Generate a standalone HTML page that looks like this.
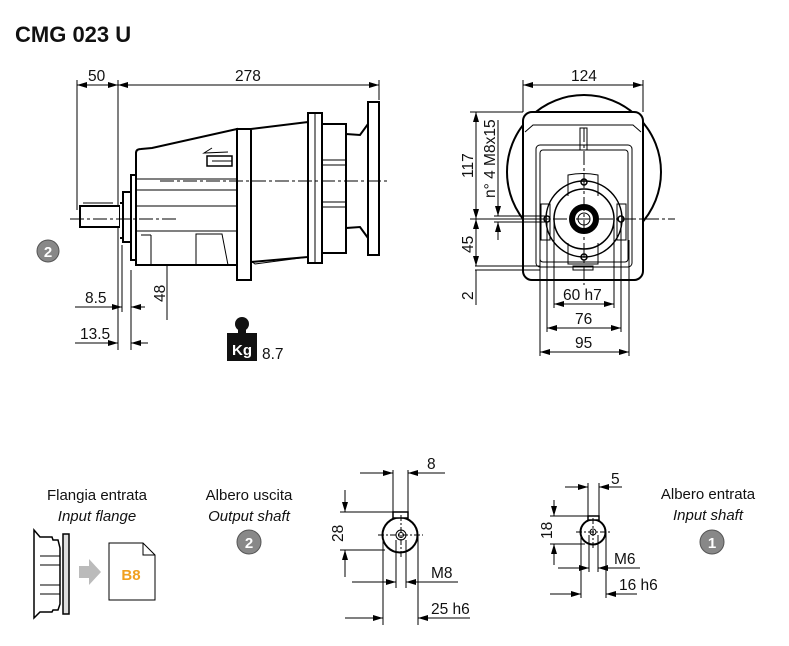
<!DOCTYPE html>
<html><head><meta charset="utf-8"><style>
html,body{margin:0;padding:0;background:#fff}
svg{display:block}
text{font-family:"Liberation Sans",Arial,sans-serif;fill:#111}
</style></head><body>
<svg width="789" height="646" viewBox="0 0 789 646" xmlns="http://www.w3.org/2000/svg">
<defs>
<marker id="a" viewBox="0 0 10 6" refX="10" refY="3" markerWidth="10" markerHeight="6" orient="auto-start-reverse" markerUnits="userSpaceOnUse"><path d="M0,0L10,3L0,6z" fill="#000"/></marker>
</defs>
<text x="15" y="42" font-size="22" font-weight="bold">CMG 023 U</text>

<g stroke="#000" fill="none" stroke-width="1">
<line x1="77" y1="80" x2="77" y2="210"/>
<line x1="118" y1="80" x2="118" y2="350"/>
<line x1="379" y1="80" x2="379" y2="100"/>
<line x1="77" y1="85" x2="118" y2="85" marker-start="url(#a)" marker-end="url(#a)"/>
<line x1="118" y1="85" x2="379" y2="85" marker-start="url(#a)" marker-end="url(#a)"/>
<line x1="122" y1="245" x2="122" y2="312"/>
<line x1="131" y1="270" x2="131" y2="350"/>
<line x1="75" y1="307" x2="122" y2="307" marker-end="url(#a)"/>
<line x1="145" y1="307" x2="131" y2="307" marker-end="url(#a)"/>
<line x1="75" y1="343" x2="118" y2="343" marker-end="url(#a)"/>
<line x1="148" y1="343" x2="131" y2="343" marker-end="url(#a)"/>
<line x1="167" y1="156" x2="167" y2="179" marker-end="url(#a)"/>
<line x1="167" y1="320" x2="167" y2="220" marker-end="url(#a)"/>
</g>
<text x="88" y="81" font-size="15.5">50</text>
<text x="235" y="81" font-size="15.5">278</text>
<text x="85" y="303" font-size="15.5">8.5</text>
<text x="80" y="339" font-size="15.5">13.5</text>
<text transform="translate(165,302) rotate(-90)" font-size="15.5">48</text>

<g stroke="#000" stroke-width="2" fill="#fff">
<rect x="80" y="206" width="40" height="21"/>
<path d="M120,203 L123,203 L123,238 L120,238"/>
<rect x="123" y="192" width="8" height="50"/>
<rect x="131" y="175" width="5" height="85"/>
<path d="M136,265 L136,153 Q136,149 141,149 L152,148 L237,129 L237,265 Z"/>
<rect x="237" y="129" width="14" height="151"/>
<path d="M251,129 L308,122 L308,257 L251,262 Z"/>
<rect x="308" y="113" width="14" height="150"/>
<rect x="322" y="124" width="24" height="129"/>
<path d="M346,134 L360,135 L368,124 L368,238 L360,227 L346,228 Z"/>
<rect x="368" y="102" width="11" height="153"/>
</g>
<g stroke="#000" stroke-width="1" fill="none">
<line x1="83" y1="203" x2="113" y2="203"/>
<line x1="136" y1="179" x2="237" y2="179"/>
<line x1="136" y1="190" x2="237" y2="190"/>
<line x1="136" y1="206" x2="237" y2="206"/>
<line x1="136" y1="231" x2="237" y2="231"/>
<line x1="322" y1="160" x2="346" y2="160"/>
<line x1="322" y1="165" x2="346" y2="165"/>
<line x1="322" y1="202" x2="346" y2="202"/>
<line x1="322" y1="207" x2="346" y2="207"/>
<line x1="141" y1="235" x2="151" y2="235"/><line x1="151" y1="235" x2="151" y2="265"/>
<path d="M196,265 L196,234 L222,234 L228,265"/>
<path d="M212,148 L204,153 L228,152"/>
<rect x="207" y="156" width="25" height="10" stroke-width="1.5"/>
<line x1="212" y1="161" x2="232" y2="161"/>
<path d="M251,261 L255,264 L308,257" />
<line x1="315" y1="113" x2="315" y2="263"/>
</g>
<g stroke="#000" stroke-width="1" stroke-dasharray="14,3,3,3">
<line x1="70" y1="219" x2="178" y2="219"/>
<line x1="160" y1="181" x2="388" y2="181"/>
</g>
<circle cx="48" cy="251" r="11" fill="#888" stroke="#555"/>
<text x="48" y="257" font-size="15" font-weight="bold" text-anchor="middle" style="fill:#fff">2</text>

<circle cx="242" cy="324" r="7" fill="#111"/>
<rect x="238" y="329" width="8" height="6" fill="#111"/>
<rect x="227" y="333" width="30" height="28" fill="#111"/>
<text x="242" y="355" font-size="15" font-weight="bold" text-anchor="middle" style="fill:#fff">Kg</text>
<text x="262" y="359" font-size="15.5">8.7</text>

<circle cx="584" cy="172" r="77" fill="#fff" stroke="#000" stroke-width="2"/>
<rect x="523" y="112" width="120" height="168" rx="9" fill="#fff" stroke="#000" stroke-width="2"/>
<g stroke="#000" fill="none" stroke-width="1">
<path d="M525,132 L533,125 L633,125 L641,132"/>
<rect x="536" y="145" width="96" height="122" rx="4"/>
<rect x="540" y="150" width="88" height="112" rx="3"/>
<rect x="580" y="128" width="7" height="22"/>
<path d="M568,196 L568,175 Q583,172 598,175 L598,196"/>
<path d="M541,204 L550,204 L550,240 L541,240 Z"/>
<path d="M617,204 L626,204 L626,240 L617,240 Z"/>
<path d="M568,243 L568,264 L598,264 L598,243"/>
<circle cx="584" cy="219" r="38" stroke-width="1.5"/>
<circle cx="584" cy="219" r="30" stroke-width="1.5"/>
<circle cx="584" cy="219" r="12" stroke="#000" stroke-width="6"/>
<circle cx="584" cy="219" r="6"/>
<circle cx="584" cy="182" r="3" stroke-width="1.5"/>
<circle cx="584" cy="257" r="3" stroke-width="1.5"/>
<circle cx="547" cy="219" r="3" stroke-width="1.5"/>
<circle cx="621" cy="219" r="3" stroke-width="1.5"/>
<rect x="573" y="266" width="20" height="4"/>
<line x1="523" y1="80" x2="523" y2="112"/>
<line x1="643" y1="80" x2="643" y2="112"/>
<line x1="523" y1="85" x2="643" y2="85" marker-start="url(#a)" marker-end="url(#a)"/>
<line x1="470" y1="112" x2="523" y2="112"/>
<line x1="470" y1="219" x2="548" y2="219"/>
<line x1="475" y1="266" x2="540" y2="266"/>
<line x1="475" y1="270" x2="540" y2="270"/>
<line x1="476" y1="112" x2="476" y2="219" marker-start="url(#a)" marker-end="url(#a)"/>
<line x1="476" y1="219" x2="476" y2="266" marker-start="url(#a)" marker-end="url(#a)"/>
<line x1="476" y1="270" x2="476" y2="305"/>
<line x1="498" y1="120" x2="498" y2="216" marker-end="url(#a)"/>
<line x1="498" y1="240" x2="498" y2="222" marker-end="url(#a)"/>
<line x1="494" y1="216" x2="546" y2="216"/>
<line x1="494" y1="222" x2="546" y2="222"/>
<line x1="554" y1="219" x2="554" y2="308"/>
<line x1="614" y1="219" x2="614" y2="308"/>
<line x1="547" y1="222" x2="547" y2="332"/>
<line x1="621" y1="222" x2="621" y2="332"/>
<line x1="540" y1="240" x2="540" y2="356"/>
<line x1="629" y1="240" x2="629" y2="356"/>
<line x1="554" y1="304" x2="614" y2="304" marker-start="url(#a)" marker-end="url(#a)"/>
<line x1="547" y1="328" x2="621" y2="328" marker-start="url(#a)" marker-end="url(#a)"/>
<line x1="540" y1="352" x2="629" y2="352" marker-start="url(#a)" marker-end="url(#a)"/>
</g>
<g stroke="#000" stroke-width="1" stroke-dasharray="14,3,3,3">
<line x1="584" y1="128" x2="584" y2="285"/>
<line x1="530" y1="219" x2="675" y2="219"/>
</g>
<text x="571" y="81" font-size="15.5">124</text>
<text transform="translate(473,178) rotate(-90)" font-size="15.5">117</text>
<text transform="translate(473,253) rotate(-90)" font-size="15.5">45</text>
<text transform="translate(473,300) rotate(-90)" font-size="15.5">2</text>
<text transform="translate(495,198) rotate(-90)" font-size="15.5">n° 4 M8x15</text>
<text x="563" y="300" font-size="15.5">60 h7</text>
<text x="575" y="324" font-size="15.5">76</text>
<text x="575" y="348" font-size="15.5">95</text>

<text x="97" y="500" font-size="15" text-anchor="middle">Flangia entrata</text>
<text x="97" y="521" font-size="15" font-style="italic" text-anchor="middle">Input flange</text>
<text x="249" y="500" font-size="15" text-anchor="middle">Albero uscita</text>
<text x="249" y="521" font-size="15" font-style="italic" text-anchor="middle">Output shaft</text>
<circle cx="249" cy="542" r="12" fill="#888" stroke="#555"/>
<text x="249" y="548" font-size="15" font-weight="bold" text-anchor="middle" style="fill:#fff">2</text>
<text x="708" y="499" font-size="15" text-anchor="middle">Albero entrata</text>
<text x="708" y="520" font-size="15" font-style="italic" text-anchor="middle">Input shaft</text>
<circle cx="712" cy="542" r="12" fill="#888" stroke="#555"/>
<text x="712" y="548" font-size="15" font-weight="bold" text-anchor="middle" style="fill:#fff">1</text>

<g stroke="#000" stroke-width="1.5" fill="#fff">
<path d="M34,530 L40,537 L52,537 L53,540 L58,540 L60,548 L60,604 L58,610 L53,610 L52,612 L40,612 L34,618 Z"/>
<rect x="63" y="534" width="6" height="80" fill="#ddd"/>
<line x1="60" y1="556" x2="40" y2="556" stroke-width="1"/>
<line x1="60" y1="565" x2="40" y2="565" stroke-width="1"/>
<line x1="60" y1="585" x2="40" y2="585" stroke-width="1"/>
<line x1="60" y1="594" x2="40" y2="594" stroke-width="1"/>
</g>
<path d="M79,566 L89,566 L89,559 L101,572 L89,585 L89,578 L79,578 Z" fill="#bbb"/>
<path d="M109,543 L143,543 L155,555 L155,600 L109,600 Z" fill="#fff" stroke="#000"/>
<path d="M143,543 L143,555 L155,555" fill="none" stroke="#000"/>
<text x="131" y="580" font-size="15" font-weight="bold" text-anchor="middle" style="fill:#f0a020">B8</text>

<g stroke="#000" fill="none" stroke-width="1">
<circle cx="400" cy="535" r="17.5" stroke-width="2"/>
<rect x="393" y="512" width="15" height="6" fill="#fff" stroke-width="1.5"/>
<circle cx="401" cy="535" r="5"/>
<circle cx="401" cy="535" r="2.5"/>
<line x1="393" y1="470" x2="393" y2="512"/>
<line x1="408" y1="470" x2="408" y2="512"/>
<line x1="360" y1="473" x2="393" y2="473" marker-end="url(#a)"/>
<line x1="445" y1="473" x2="408" y2="473" marker-end="url(#a)"/>
<line x1="340" y1="512" x2="393" y2="512"/>
<line x1="340" y1="550" x2="385" y2="550"/>
<line x1="345" y1="490" x2="345" y2="512" marker-end="url(#a)"/>
<line x1="345" y1="577" x2="345" y2="550" marker-end="url(#a)"/>
<line x1="383" y1="535" x2="383" y2="625"/>
<line x1="418" y1="535" x2="418" y2="625"/>
<line x1="396" y1="540" x2="396" y2="588"/>
<line x1="406" y1="540" x2="406" y2="588"/>
<line x1="352" y1="582" x2="396" y2="582" marker-end="url(#a)"/>
<line x1="458" y1="582" x2="406" y2="582" marker-end="url(#a)"/>
<line x1="345" y1="618" x2="383" y2="618" marker-end="url(#a)"/>
<line x1="470" y1="618" x2="418" y2="618" marker-end="url(#a)"/>
</g>
<g stroke="#000" stroke-width="1" stroke-dasharray="6,2,2,2"><line x1="378" y1="535" x2="423" y2="535"/><line x1="401" y1="515" x2="401" y2="558"/></g>
<text x="427" y="469" font-size="15.5">8</text>
<text transform="translate(343,542) rotate(-90)" font-size="15.5">28</text>
<text x="431" y="578" font-size="15.5">M8</text>
<text x="431" y="614" font-size="15.5">25 h6</text>

<g stroke="#000" fill="none" stroke-width="1">
<circle cx="593" cy="532" r="12.5" stroke-width="2"/>
<rect x="588" y="516" width="11" height="4" fill="#fff" stroke-width="1.5"/>
<circle cx="593" cy="532" r="3"/>
<line x1="588" y1="483" x2="588" y2="516"/>
<line x1="599" y1="483" x2="599" y2="516"/>
<line x1="565" y1="487" x2="588" y2="487" marker-end="url(#a)"/>
<line x1="622" y1="487" x2="599" y2="487" marker-end="url(#a)"/>
<line x1="550" y1="516" x2="588" y2="516"/>
<line x1="550" y1="544" x2="585" y2="544"/>
<line x1="554" y1="500" x2="554" y2="516" marker-end="url(#a)"/>
<line x1="554" y1="565" x2="554" y2="544" marker-end="url(#a)"/>
<line x1="581" y1="532" x2="581" y2="598"/>
<line x1="606" y1="532" x2="606" y2="598"/>
<line x1="589" y1="535" x2="589" y2="572"/>
<line x1="598" y1="535" x2="598" y2="572"/>
<line x1="558" y1="568" x2="589" y2="568" marker-end="url(#a)"/>
<line x1="640" y1="568" x2="598" y2="568" marker-end="url(#a)"/>
<line x1="550" y1="594" x2="581" y2="594" marker-end="url(#a)"/>
<line x1="637" y1="594" x2="606" y2="594" marker-end="url(#a)"/>
</g>
<g stroke="#000" stroke-width="1" stroke-dasharray="6,2,2,2"><line x1="576" y1="532" x2="610" y2="532"/><line x1="593" y1="518" x2="593" y2="548"/></g>
<text x="611" y="484" font-size="15.5">5</text>
<text transform="translate(552,539) rotate(-90)" font-size="15.5">18</text>
<text x="614" y="564" font-size="15.5">M6</text>
<text x="619" y="590" font-size="15.5">16 h6</text>
</svg>
</body></html>
